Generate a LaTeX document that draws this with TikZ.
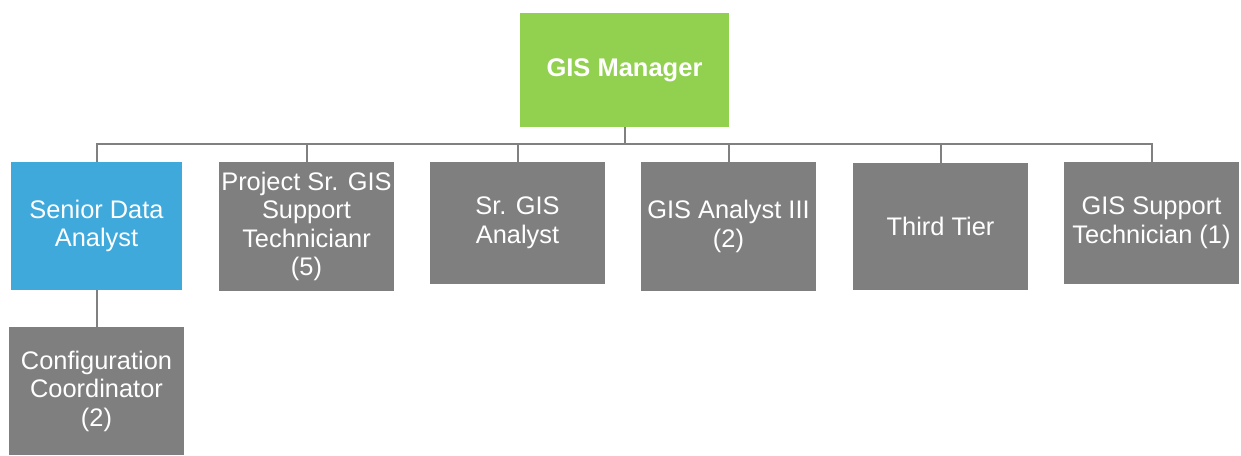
\documentclass[tikz,border=0pt]{standalone}
\usepackage{fontspec}
\setmainfont{Liberation Sans}
\definecolor{mgrgreen}{HTML}{92D050}
\definecolor{leadblue}{HTML}{3FA9DC}
\definecolor{staffgrey}{HTML}{7F7F7F}
\definecolor{linegrey}{HTML}{808080}
\begin{document}
\begin{tikzpicture}[x=1pt,y=-1pt,
  box/.style={draw=none,fill=staffgrey,text=white,inner sep=0pt,align=center,
    font=\fontsize{25.4}{28.5}\selectfont},
  conn/.style={draw=linegrey,line width=2pt}]
\useasboundingbox (0,0) rectangle (1241,455);
% top of the chart
\node[box,fill=mgrgreen,minimum width=209pt,minimum height=114pt,
      font=\fontsize{25.5}{28.5}\selectfont\bfseries] (mgr) at (624.5,70) {GIS Manager};
% second row
\node[box,fill=leadblue,minimum width=171pt,minimum height=128pt] (sda) at (96.5,226) {Senior Data\\Analyst};
\node[box,minimum width=175pt,minimum height=129pt] (pst) at (306.5,226.5) {Project Sr. GIS\\Support\\Technicianr\\(5)};
\node[box,minimum width=175pt,minimum height=122pt] (sga) at (517.5,223) {Sr. GIS\\Analyst};
\node[box,minimum width=175pt,minimum height=129pt] (ga3) at (728.5,226.5) {GIS Analyst III\\(2)};
\node[box,minimum width=175pt,minimum height=127pt] (ttr) at (940.5,226.5) {Third Tier};
\node[box,minimum width=175pt,minimum height=122pt] (gst) at (1151.5,223) {GIS Support\\Technician (1)};
% third row
\node[box,minimum width=175pt,minimum height=128pt] (cfg) at (96.5,391) {Configuration\\Coordinator\\(2)};
% connectors
\coordinate (bus) at (624.5,144);
\foreach \c in {sda,pst,sga,ga3,ttr,gst}
  \draw[conn] (\c.north) -- (\c.north |- bus) -- (bus) -- (mgr.south);
\draw[conn] (sda.south) -- (cfg.north);
\end{tikzpicture}
\end{document}
